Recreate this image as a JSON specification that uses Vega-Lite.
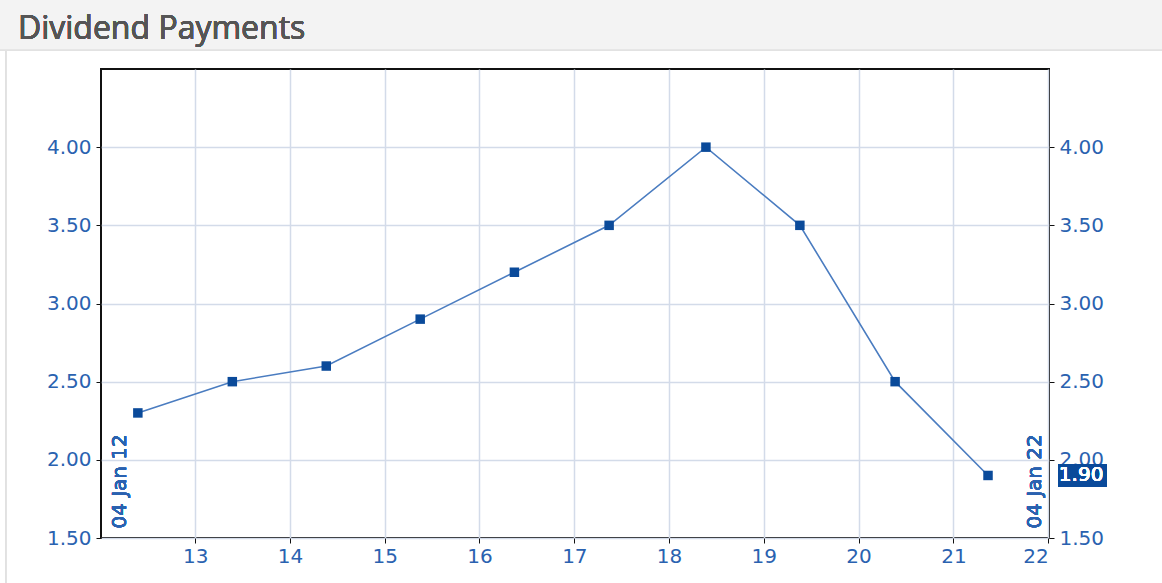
{
  "$schema": "https://vega.github.io/schema/vega-lite/v6.json",
  "width": 948,
  "height": 469,
  "autosize": {"type": "none"},
  "padding": {"left": 101, "top": 69, "right": 113, "bottom": 45},
  "background": "white",
  "config": {
    "view": {"stroke": "#111111", "strokeWidth": 2},
    "axis": {
      "labelFont": "DejaVu Sans",
      "labelFontSize": 20,
      "labelColor": "#2a62b0",
      "tickColor": "#111111",
      "tickSize": 5,
      "domain": false,
      "gridColor": "#d3dbe9",
      "gridWidth": 1.5,
      "title": null
    }
  },
  "data": {
    "values": [
      {"date": "2012-05-25", "dividend": 2.30},
      {"date": "2013-05-24", "dividend": 2.50},
      {"date": "2014-05-21", "dividend": 2.60},
      {"date": "2015-05-18", "dividend": 2.90},
      {"date": "2016-05-15", "dividend": 3.20},
      {"date": "2017-05-15", "dividend": 3.50},
      {"date": "2018-05-23", "dividend": 4.00},
      {"date": "2019-05-20", "dividend": 3.50},
      {"date": "2020-05-21", "dividend": 2.50},
      {"date": "2021-05-14", "dividend": 1.90}
    ]
  },
  "resolve": {"scale": {"y": "independent"}, "axis": {"y": "independent"}},
  "layer": [
    {
      "mark": {"type": "rect", "fill": "#f3f3f3", "stroke": "#e2e2e2", "strokeWidth": 1.5},
      "encoding": {
        "x": {"datum": {"year": 2010, "month": 11, "date": 1}, "type": "temporal"},
        "x2": {"datum": {"year": 2023, "month": 6, "date": 1}},
        "y": {"datum": 4.622, "type": "quantitative", "scale": {"domain": [1.5, 4.5]}, "axis": null},
        "y2": {"datum": 4.97}
      }
    },
    {
      "mark": {"type": "rule", "color": "#e2e2e2", "strokeWidth": 1.5},
      "encoding": {
        "x": {"datum": {"year": 2011, "month": 1, "date": 3}, "type": "temporal"},
        "y": {"datum": 4.617, "type": "quantitative", "scale": {"domain": [1.5, 4.5]}, "axis": null},
        "y2": {"datum": 1.15}
      }
    },
    {
      "mark": {"type": "text", "align": "left", "baseline": "alphabetic", "font": "Open Sans", "fontSize": 32, "fontWeight": "normal", "fill": "#555555"},
      "encoding": {
        "x": {"datum": {"year": 2011, "month": 2, "date": 18}, "type": "temporal"},
        "y": {"datum": 4.692, "type": "quantitative", "scale": {"domain": [1.5, 4.5]}, "axis": null},
        "text": {"value": "Dividend Payments"}
      }
    },
    {
      "mark": {"type": "line", "color": "#4a7cc0", "strokeWidth": 1.6},
      "encoding": {
        "x": {
          "field": "date",
          "type": "temporal",
          "scale": {"domain": [{"year": 2012, "month": 1, "date": 4}, {"year": 2022, "month": 1, "date": 4}]},
          "axis": {
            "values": [
              {"year": 2013, "month": 1, "date": 1},
              {"year": 2014, "month": 1, "date": 1},
              {"year": 2015, "month": 1, "date": 1},
              {"year": 2016, "month": 1, "date": 1},
              {"year": 2017, "month": 1, "date": 1},
              {"year": 2018, "month": 1, "date": 1},
              {"year": 2019, "month": 1, "date": 1},
              {"year": 2020, "month": 1, "date": 1},
              {"year": 2021, "month": 1, "date": 1},
              {"year": 2022, "month": 1, "date": 1}
            ],
            "format": "%y",
            "grid": true,
            "labelPadding": 3
          }
        },
        "y": {
          "field": "dividend",
          "type": "quantitative",
          "scale": {"domain": [1.5, 4.5]},
          "axis": {
            "orient": "left",
            "values": [1.5, 2, 2.5, 3, 3.5, 4],
            "format": ".2f",
            "grid": true,
            "labelPadding": 5
          }
        }
      }
    },
    {
      "mark": {"type": "square", "color": "#0a4a9a", "filled": true, "opacity": 1, "size": 90},
      "encoding": {
        "x": {"field": "date", "type": "temporal"},
        "y": {
          "field": "dividend",
          "type": "quantitative",
          "scale": {"domain": [1.5, 4.5]},
          "axis": {
            "orient": "right",
            "values": [1.5, 2, 2.5, 3, 3.5, 4],
            "format": ".2f",
            "grid": false,
            "labelPadding": 5
          }
        }
      }
    },
    {
      "mark": {"type": "text", "angle": 270, "align": "left", "baseline": "middle", "font": "DejaVu Sans", "fontSize": 20, "fontWeight": "normal", "fill": "#2a62b0", "xOffset": 19},
      "encoding": {
        "x": {"datum": {"year": 2012, "month": 1, "date": 4}, "type": "temporal"},
        "y": {"datum": 1.56, "type": "quantitative", "scale": {"domain": [1.5, 4.5]}, "axis": null},
        "text": {"value": "04 Jan 12"}
      }
    },
    {
      "mark": {"type": "text", "angle": 270, "align": "left", "baseline": "middle", "font": "DejaVu Sans", "fontSize": 20, "fontWeight": "normal", "fill": "#2a62b0", "xOffset": -14},
      "encoding": {
        "x": {"datum": {"year": 2022, "month": 1, "date": 4}, "type": "temporal"},
        "y": {"datum": 1.56, "type": "quantitative", "scale": {"domain": [1.5, 4.5]}, "axis": null},
        "text": {"value": "04 Jan 22"}
      }
    },
    {
      "mark": {"type": "rect", "fill": "#0a4a9a"},
      "encoding": {
        "x": {"datum": {"year": 2022, "month": 2, "date": 8}, "type": "temporal"},
        "x2": {"datum": {"year": 2022, "month": 8, "date": 14}},
        "y": {"datum": 1.83, "type": "quantitative", "scale": {"domain": [1.5, 4.5]}, "axis": null},
        "y2": {"datum": 1.97}
      }
    },
    {
      "mark": {"type": "text", "align": "left", "baseline": "middle", "font": "DejaVu Sans", "fontSize": 20, "fontWeight": "normal", "fill": "white"},
      "encoding": {
        "x": {"datum": {"year": 2022, "month": 2, "date": 11}, "type": "temporal"},
        "y": {"datum": 1.9, "type": "quantitative", "scale": {"domain": [1.5, 4.5]}, "axis": null},
        "text": {"value": "1.90"}
      }
    }
  ]
}
